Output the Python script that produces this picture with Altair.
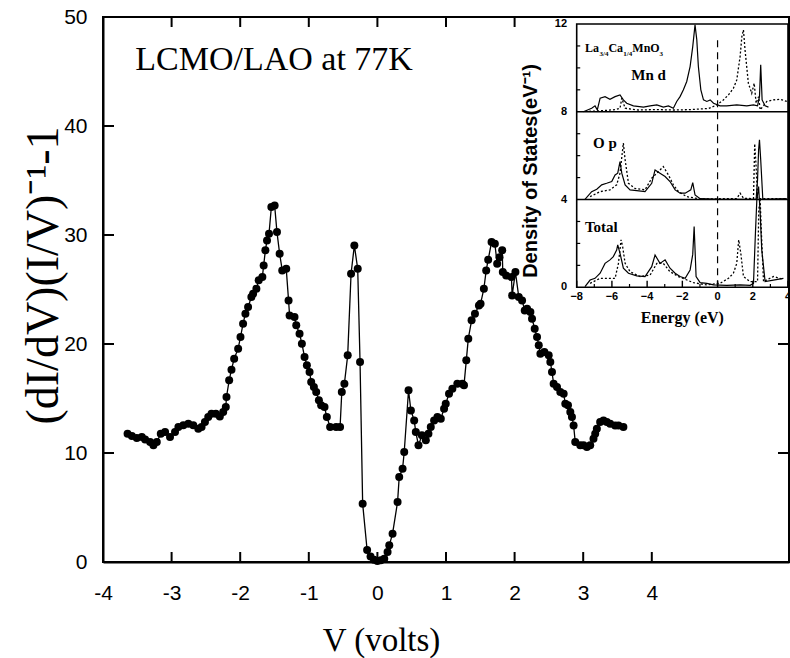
import altair as alt
import pandas as pd

# ---------------- main curve (V in volts, normalized conductance) ----------------
V = [-3.642, -3.579, -3.507, -3.434, -3.386, -3.313, -3.265, -3.216, -3.158, -3.095,
     -3.023, -2.950, -2.901, -2.829, -2.756, -2.684, -2.611, -2.563, -2.514, -2.466,
     -2.418, -2.355, -2.297, -2.248, -2.210, -2.200, -2.161, -2.127, -2.088, -2.030,
     -1.996, -1.958, -1.924, -1.885, -1.837, -1.812, -1.764, -1.730, -1.677, -1.658,
     -1.633, -1.609, -1.580, -1.546, -1.498, -1.464, -1.425, -1.387, -1.329, -1.295,
     -1.280, -1.208, -1.183, -1.135, -1.101, -1.062, -1.028, -0.989, -0.965, -0.926,
     -0.892, -0.853, -0.820, -0.771, -0.737, -0.689, -0.602, -0.544, -0.519, -0.481,
     -0.433, -0.384, -0.336, -0.287, -0.253, -0.215, -0.15, -0.10, -0.05, 0.0,
     0.05, 0.10, 0.148, 0.173, 0.221, 0.294, 0.318, 0.367, 0.391, 0.454,
     0.488, 0.536, 0.560, 0.599, 0.648, 0.706, 0.744, 0.778, 0.827, 0.875,
     0.924, 0.972, 0.996, 1.044, 1.093, 1.165, 1.238, 1.262, 1.296, 1.325,
     1.373, 1.422, 1.480, 1.504, 1.552, 1.586, 1.615, 1.664, 1.712, 1.746,
     1.780, 1.819, 1.828, 1.877, 1.954, 1.964, 2.012, 2.061, 2.109, 2.148,
     2.182, 2.230, 2.254, 2.293, 2.327, 2.352, 2.376, 2.434, 2.497, 2.521,
     2.545, 2.569, 2.618, 2.666, 2.715, 2.739, 2.778, 2.812, 2.836, 2.860,
     2.884, 2.957, 3.005, 3.054, 3.102, 3.150, 3.175, 3.199, 3.247, 3.296,
     3.344, 3.393, 3.465, 3.514, 3.586]
Y = [11.77, 11.56, 11.38, 11.47, 11.23, 11.01, 10.71, 11.01, 11.77, 11.93,
     11.47, 11.93, 12.39, 12.54, 12.69, 12.54, 12.23, 12.39, 12.84, 13.30,
     13.61, 13.61, 13.36, 13.76, 14.22, 15.14, 16.67, 17.64, 18.65, 19.57,
     20.64, 21.86, 22.78, 23.39, 24.31, 24.61, 25.07, 25.84, 26.14, 27.21,
     28.59, 29.50, 30.11, 32.56, 32.71, 30.27, 28.28, 26.75, 26.90, 24.00,
     22.62, 22.47, 21.71, 20.94, 20.03, 18.81, 18.04, 17.43, 16.51, 16.05,
     15.60, 14.83, 14.37, 14.22, 13.30, 12.39, 12.39, 12.39, 15.60, 16.36,
     18.96, 26.45, 29.04, 26.90, 18.35, 5.35, 1.1, 0.5, 0.2, 0.1,
     0.15, 0.3, 0.92, 1.53, 2.60, 5.51, 7.80, 8.56, 10.09, 15.75,
     13.91, 12.99, 11.92, 10.70, 11.62, 11.16, 11.77, 12.38, 12.99, 13.30,
     13.15, 14.06, 14.52, 15.44, 15.90, 16.36, 16.36, 16.21, 18.50, 20.49,
     22.17, 22.78, 23.54, 23.69, 25.07, 26.75, 27.73, 29.35, 29.20, 27.36,
     27.97, 28.59, 26.60, 26.29, 26.14, 24.46, 26.60, 24.31, 24.00, 23.08,
     23.24, 22.93, 22.32, 21.40, 20.64, 19.88, 19.11, 19.26, 18.96, 18.35,
     17.43, 16.36, 16.05, 15.59, 15.44, 14.52, 14.37, 13.76, 13.30, 12.53,
     11.01, 10.70, 10.70, 10.55, 10.70, 11.31, 11.77, 12.23, 12.84, 12.99,
     12.84, 12.69, 12.53, 12.53, 12.38]

X_TICK_LABELS = [-4, -3, -2, -1, 0, 1, 2, 3, 4]
Y_TICK_LABELS = [0, 10, 20, 30, 40, 50]
BOTTOM_TICKS = [-3, -2, -1, 0, 1, 2, 3, 4]
TOP_TICKS = [-3, -2, -1, 0, 1, 2]
LEFT_TICKS = [10, 20, 30, 40]
RIGHT_TICKS = [10, 20]

TITLE_TEXT = ["LCMO/LAO at 77K"]
TITLE_V = [-3.53]
TITLE_Y = [45.1]

# ---------------- inset: density of states (panels offset by 8 / 4 / 0) ----------------
MND_SOLID_E = [-7.62, -7.15, -6.96, -6.83, -6.67, -6.39, -6.11, -5.82, -5.54, -5.35, -5.16, -4.78,
               -4.21, -3.83, -3.45, -3.08, -2.79, -2.51, -2.32, -2.13, -1.94, -1.75, -1.56, -1.41,
               -1.28, -1.18, -1.09, -0.95, -0.80, -0.61, -0.42, -0.23, 0.14, 0.52, 1.09, 1.66,
               2.04, 2.27, 2.38, 2.45, 2.53, 2.70, 2.89]
MND_SOLID_D = [8.0, 8.16, 8.27, 8.09, 8.62, 8.69, 8.57, 8.69, 8.77, 8.54, 8.39, 8.27,
               8.21, 8.27, 8.31, 8.21, 8.27, 8.16, 8.47, 8.69, 9.00, 9.38, 10.06, 10.97,
               11.96, 11.28, 10.06, 9.00, 8.54, 8.47, 8.54, 8.39, 8.27, 8.27, 8.31, 8.27,
               8.31, 8.27, 8.69, 10.14, 8.54, 8.27, 8.21]
MND_DOT_E = [-7.3, -6.5, -5.8, -5.54, -5.44, -5.25, -4.5, -3.5, -2.5, -1.5, -0.5, -0.05, 0.33, 0.62,
             0.90, 1.09, 1.28, 1.38, 1.47, 1.56, 1.75, 1.94, 2.08, 2.19, 2.33, 2.42, 2.80, 3.17,
             3.55, 3.93]
MND_DOT_D = [8.02, 8.05, 8.1, 8.16, 8.62, 8.16, 8.08, 8.1, 8.08, 8.1, 8.15, 8.31, 8.54, 8.77,
             9.07, 9.45, 10.52, 11.43, 11.73, 10.82, 9.30, 8.84, 9.30, 8.39, 8.69, 8.09, 8.47, 8.54,
             8.57, 8.47]
OP_SOLID_E = [-7.53, -7.15, -6.86, -6.58, -6.30, -6.01, -5.82, -5.67, -5.54, -5.44, -5.25, -4.97,
              -4.59, -4.12, -3.74, -3.55, -3.27, -2.98, -2.70, -2.41, -2.13, -1.84, -1.52, -1.41,
              -1.28, -0.99, 0.14, 1.85, 2.19, 2.27, 2.33, 2.38, 2.45, 2.57, 3.93]
OP_SOLID_D = [4.01, 4.36, 4.47, 4.67, 4.74, 4.82, 5.12, 5.20, 5.73, 5.20, 4.67, 4.44,
              4.41, 4.36, 4.74, 5.35, 5.20, 5.05, 4.82, 4.44, 4.29, 4.29, 4.44, 4.77,
              4.21, 4.04, 4.01, 4.01, 4.01, 4.89, 6.26, 6.72, 5.81, 4.01, 4.04]
OP_DOT_E = [-7.24, -6.67, -6.11, -5.73, -5.54, -5.35, -5.25, -5.06, -4.69, -4.12, -3.74, -3.36, -3.08,
            -2.79, -2.51, -2.22, -1.75, -0.99, 1.09, 1.28, 1.47, 2.04, 2.11, 2.19, 2.27, 3.93]
OP_DOT_D = [4.13, 4.36, 4.44, 4.67, 5.20, 6.57, 5.81, 4.74, 4.51, 4.44, 4.97, 5.27, 5.50,
            5.12, 4.67, 4.36, 4.13, 4.03, 4.04, 4.29, 4.06, 4.04, 6.54, 5.50, 4.04, 4.04]
TOT_SOLID_E = [-7.53, -7.24, -6.96, -6.67, -6.39, -6.11, -5.92, -5.73, -5.67, -5.54, -5.35, -5.06,
               -4.59, -4.12, -3.74, -3.55, -3.27, -2.98, -2.70, -2.41, -2.13, -1.84, -1.56, -1.41,
               -1.33, -1.22, -0.99, -0.61, -0.23, 0.52, 1.28, 1.85, 2.04, 2.15, 2.23, 2.33,
               2.42, 2.51, 2.70, 3.17, 3.74]
TOT_SOLID_D = [0.03, 0.33, 0.41, 0.64, 1.09, 1.25, 1.40, 1.70, 1.93, 1.55, 0.87, 0.64,
               0.52, 0.49, 0.94, 1.47, 1.09, 1.25, 0.87, 0.64, 0.49, 0.41, 0.79, 1.5,
               2.77, 0.49, 0.21, 0.18, 0.11, 0.09, 0.11, 0.09, 0.18, 2.46, 3.98, 4.59,
               3.37, 1.70, 0.26, 0.33, 0.41]
TOT_DOT_E = [-7.24, -6.67, -6.11, -5.82, -5.63, -5.48, -5.39, -5.25, -4.97, -4.40, -3.83, -3.45,
             -3.08, -2.70, -2.22, -1.37, -0.61, 0.14, 0.62, 0.90, 1.09, 1.20, 1.32, 1.47,
             1.85, 2.27, 2.34, 2.42, 2.49, 2.61, 3.17, 3.74]
TOT_DOT_D = [0.18, 0.41, 0.41, 0.41, 1.09, 2.16, 1.85, 1.09, 0.71, 0.49, 0.56, 1.09,
             1.09, 0.71, 0.49, 0.21, 0.11, 0.18, 0.41, 0.64, 1.09, 2.16, 1.55, 0.49,
             0.26, 0.26, 3.53, 3.98, 2.46, 0.26, 0.49, 0.36]

INSET_X_TICKS = [-8, -6, -4, -2, 0, 2, 4]
INSET_X_LABELS = ["\u22128", "\u22126", "\u22124", "\u22122", "0", "2", "4"]
INSET_X_MINOR = [-7, -5, -3, -1, 1, 3]
INSET_Y_TICKS = [0, 4, 8, 12]
INSET_Y_LABELS = ["0", "4", "8", "12"]
INSET_Y_MINOR = [1, 2, 3, 5, 6, 7, 9, 10, 11]
PANEL_SEPARATORS = [4, 8]
# compound formula La3/4Ca1/4MnO3: main-size pieces and small subscript pieces
FORMULA_MAIN = ["La", "Ca", "MnO"]
FORMULA_MAIN_E = [-7.53, -6.20, -4.84]
FORMULA_SUB = ["3/4", "1/4", "3"]
FORMULA_SUB_E = [-6.70, -5.36, -3.30]
FORMULA_D = 10.9
PANEL_LABELS = ["Mn d", "O p", "Total"]
PANEL_LABEL_E = [-4.9, -7.07, -7.53]
PANEL_LABEL_D = [9.68, 6.58, 2.75]

# ---------------- layout ----------------
W, H = 686, 545
xs = alt.Scale(domain=[-4, 6], nice=False, zero=False)
ys = alt.Scale(domain=[0, 50], nice=False, zero=False)
ixs = alt.Scale(domain=[-8, 4], range=[473.7, 685], nice=False, zero=False)
iys = alt.Scale(domain=[0, 12], range=[270.3, 7], nice=False, zero=False)

main_df = pd.DataFrame({"V": V, "Y": Y, "i": list(range(len(V)))})

x_axis = alt.Axis(values=X_TICK_LABELS, tickSize=0, grid=False, domainColor="black",
                  domainWidth=2, labelFont="Liberation Sans", labelFontSize=21,
                  labelColor="black", labelPadding=20, labelFlush=False,
                  labelExpr="'' + datum.value",
                  title="V (volts)", titleFont="Liberation Serif", titleFontSize=33,
                  titleFontWeight="normal", titleColor="black", titleX=278, titleY=88,
                  titleAlign="center", titleBaseline="alphabetic")
y_axis = alt.Axis(values=Y_TICK_LABELS, tickSize=0, grid=False, domainColor="black",
                  domainWidth=2, labelFont="Liberation Sans", labelFontSize=21,
                  labelColor="black", labelPadding=16, labelFlush=False,
                  labelExpr="'' + datum.value",
                  title="(dI/dV)(I/V)\u207b\u00b9-1", titleFont="Liberation Serif", titleFontSize=46,
                  titleFontWeight="normal", titleColor="black", titleAngle=270,
                  titleX=-46, titleY=258, titleAlign="center", titleBaseline="alphabetic")

MX = lambda f: alt.X(f, scale=xs, axis=x_axis)
MY = lambda f: alt.Y(f, scale=ys, axis=y_axis)

line = alt.Chart(main_df).mark_line(color="black", strokeWidth=1.3).encode(
    x=MX("V:Q"), y=MY("Y:Q"), order="i:Q")
pts = alt.Chart(main_df).mark_circle(color="black", size=64, opacity=1).encode(
    x=MX("V:Q"), y=MY("Y:Q"))

tick_style = dict(color="black", strokeWidth=2)
bt = alt.Chart(pd.DataFrame({"t": BOTTOM_TICKS})).mark_rule(**tick_style).encode(
    x=MX("t:Q"), y=alt.value(H), y2=alt.value(H - 10))
tt = alt.Chart(pd.DataFrame({"t": TOP_TICKS})).mark_rule(**tick_style).encode(
    x=MX("t:Q"), y=alt.value(0), y2=alt.value(10))
lt = alt.Chart(pd.DataFrame({"t": LEFT_TICKS})).mark_rule(**tick_style).encode(
    y=MY("t:Q"), x=alt.value(0), x2=alt.value(11))
rt = alt.Chart(pd.DataFrame({"t": RIGHT_TICKS})).mark_rule(**tick_style).encode(
    y=MY("t:Q"), x=alt.value(W), x2=alt.value(W - 11))

title = alt.Chart(pd.DataFrame({"txt": TITLE_TEXT, "V": TITLE_V, "Y": TITLE_Y})).mark_text(
    font="Liberation Serif", fontSize=34, align="left", baseline="alphabetic", color="black"
).encode(x=MX("V:Q"), y=MY("Y:Q"), text="txt:N")

main = alt.layer(line, pts, bt, tt, lt, rt, title)

# ---------------- inset ----------------
def series(E, D, panel):
    return pd.DataFrame({"E": E, "D": D, "panel": panel, "i": list(range(len(E)))})

solid_df = pd.concat([series(MND_SOLID_E, MND_SOLID_D, "Mn d"),
                      series(OP_SOLID_E, OP_SOLID_D, "O p"),
                      series(TOT_SOLID_E, TOT_SOLID_D, "Total")])
dot_df = pd.concat([series(MND_DOT_E, MND_DOT_D, "Mn d"),
                    series(OP_DOT_E, OP_DOT_D, "O p"),
                    series(TOT_DOT_E, TOT_DOT_D, "Total")])

IX = lambda f: alt.X(f, scale=ixs, axis=None)
IY = lambda f: alt.Y(f, scale=iys, axis=None)

frame = alt.Chart(pd.DataFrame({"e1": [-8], "e2": [4], "d1": [0], "d2": [12]})).mark_rect(
    fill="white", stroke="black", strokeWidth=1.6).encode(
    x=IX("e1:Q"), x2="e2:Q", y=IY("d1:Q"), y2="d2:Q")
seps = alt.Chart(pd.DataFrame({"d": PANEL_SEPARATORS, "e1": -8, "e2": 4})).mark_rule(
    color="black", strokeWidth=1.6).encode(x=IX("e1:Q"), x2="e2:Q", y=IY("d:Q"))
zero = alt.Chart(pd.DataFrame({"e": [0], "d1": [0], "d2": [11.4]})).mark_rule(
    color="black", strokeWidth=1.2, strokeDash=[7, 5]).encode(x=IX("e:Q"), y=IY("d1:Q"), y2="d2:Q")
solid = alt.Chart(solid_df).mark_line(color="black", strokeWidth=1.2).encode(
    x=IX("E:Q"), y=IY("D:Q"), detail="panel:N", order="i:Q")
dotted = alt.Chart(dot_df).mark_line(color="black", strokeWidth=1.3, strokeDash=[2, 2]).encode(
    x=IX("E:Q"), y=IY("D:Q"), detail="panel:N", order="i:Q")

ixt = alt.Chart(pd.DataFrame({"e": INSET_X_TICKS, "d1": 0, "d2": 0.3})).mark_rule(
    color="black", strokeWidth=1.4).encode(x=IX("e:Q"), y=IY("d1:Q"), y2="d2:Q")
ixm = alt.Chart(pd.DataFrame({"e": INSET_X_MINOR, "d1": 0, "d2": 0.15})).mark_rule(
    color="black", strokeWidth=1.2).encode(x=IX("e:Q"), y=IY("d1:Q"), y2="d2:Q")
iym = alt.Chart(pd.DataFrame({"d": INSET_Y_MINOR, "e1": -8, "e2": -7.8})).mark_rule(
    color="black", strokeWidth=1.2).encode(x=IX("e1:Q"), x2="e2:Q", y=IY("d:Q"))
ixl = alt.Chart(pd.DataFrame({"e": INSET_X_TICKS, "lab": INSET_X_LABELS, "d": -0.45})).mark_text(
    font="Liberation Sans", fontWeight="bold", fontSize=11, baseline="middle", color="black").encode(
    x=IX("e:Q"), y=IY("d:Q"), text="lab:N")
iyl = alt.Chart(pd.DataFrame({"d": INSET_Y_TICKS, "lab": INSET_Y_LABELS, "e": -8.55})).mark_text(
    font="Liberation Sans", fontWeight="bold", fontSize=11, align="right", baseline="middle",
    color="black").encode(x=IX("e:Q"), y=IY("d:Q"), text="lab:N")
ixtitle = alt.Chart(pd.DataFrame({"t": ["Energy (eV)"], "e": [-2], "d": [-1.38]})).mark_text(
    font="Liberation Serif", fontWeight="bold", fontSize=16, baseline="middle", color="black").encode(
    x=IX("e:Q"), y=IY("d:Q"), text="t:N")
iytitle = alt.Chart(pd.DataFrame({"t": ["Density of States(eV\u207b\u00b9)"], "e": [-10.6], "d": [5.3]})).mark_text(
    font="Liberation Sans", fontWeight="bold", fontSize=20, angle=270, baseline="middle",
    color="black").encode(x=IX("e:Q"), y=IY("d:Q"), text="t:N")
fmain = alt.Chart(pd.DataFrame({"t": FORMULA_MAIN, "e": FORMULA_MAIN_E, "d": FORMULA_D})).mark_text(
    font="Liberation Serif", fontWeight="bold", fontSize=12, align="left", baseline="middle",
    color="black").encode(x=IX("e:Q"), y=IY("d:Q"), text="t:N")
fsub = alt.Chart(pd.DataFrame({"t": FORMULA_SUB, "e": FORMULA_SUB_E, "d": FORMULA_D - 0.28})).mark_text(
    font="Liberation Serif", fontWeight="bold", fontSize=7, align="left", baseline="middle",
    color="black").encode(x=IX("e:Q"), y=IY("d:Q"), text="t:N")
plabels = alt.Chart(pd.DataFrame({"t": PANEL_LABELS, "e": PANEL_LABEL_E, "d": PANEL_LABEL_D})).mark_text(
    font="Liberation Serif", fontWeight="bold", fontSize=15, align="left", baseline="middle",
    color="black").encode(x=IX("e:Q"), y=IY("d:Q"), text="t:N")

inset = alt.layer(frame, zero, solid, dotted, seps, ixt, ixm, iym, ixl, iyl, ixtitle, iytitle,
                  fmain, fsub, plabels)

chart = alt.layer(main, inset).resolve_scale(x="independent", y="independent").properties(
    width=W, height=H, autosize="none",
    padding={"left": 103, "top": 17, "right": 1, "bottom": 96},
    background="white"
).configure_view(stroke="black", strokeWidth=2)

chart.save("out.html", embed_options={"renderer": "svg", "actions": False})
